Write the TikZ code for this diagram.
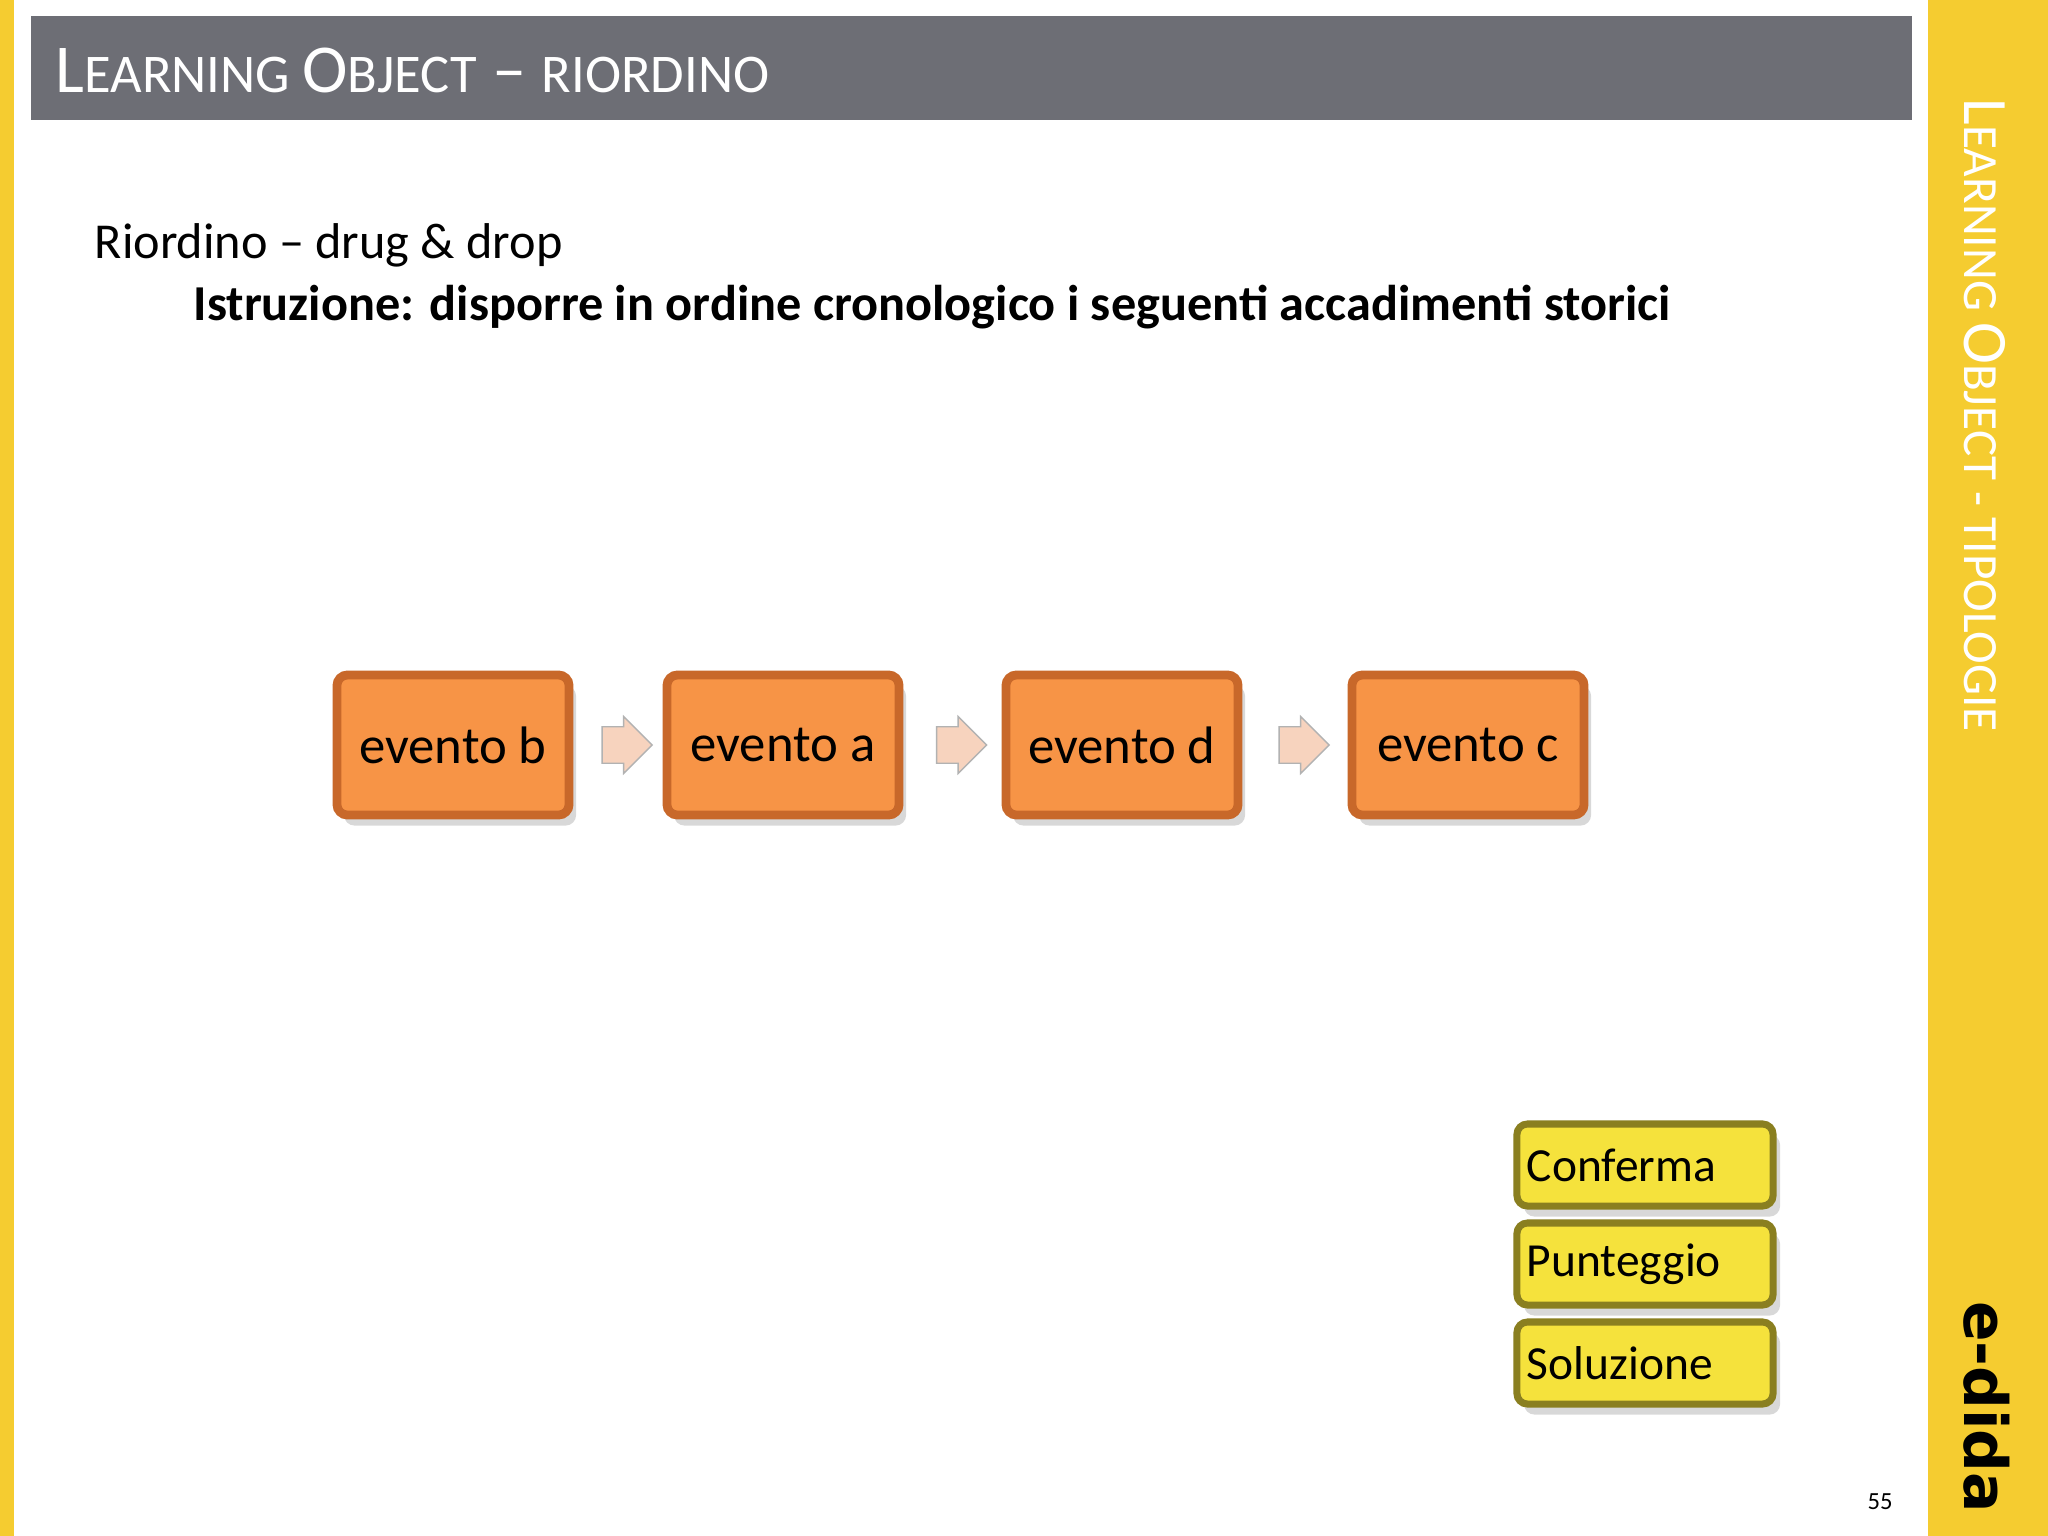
\documentclass[tikz,border=0pt]{standalone}
\usepackage{fontspec}
\setmainfont{Carlito}
\usetikzlibrary{shapes.arrows,shadows,calc}
\definecolor{barYellow}{HTML}{F5CC30}
\definecolor{barGray}{HTML}{6D6E75}
\definecolor{evfill}{HTML}{F79446}
\definecolor{evdraw}{HTML}{C8682A}
\definecolor{btnYellow}{HTML}{F5E23C}
\definecolor{btnEdge}{HTML}{8A7F20}
\definecolor{arrFill}{HTML}{F7D3BE}
\tikzset{
 evbox/.style={draw=evdraw,line width=2.5pt,fill=evfill,rounded corners=3pt,minimum width=2.32cm,minimum height=1.40cm,inner sep=0,font=\fontsize{15}{15}\selectfont,drop shadow={shadow xshift=2pt,shadow yshift=-3pt,opacity=0.3}},
 btnbox/.style={draw=btnEdge,line width=2pt,fill=btnYellow,rounded corners=3pt,minimum width=2.56cm,minimum height=0.82cm,text width=2.36cm,inner sep=0,font=\fontsize{13.5}{13.5}\selectfont,drop shadow={shadow xshift=2pt,shadow yshift=-3pt,opacity=0.3}},
 arrowbox/.style={single arrow,draw=gray!60,fill=arrFill,minimum width=0.57cm,minimum height=0.5cm,single arrow head extend=0.1cm,inner xsep=0.08cm,inner ysep=0.17cm}
}
\begin{document}
\begin{tikzpicture}[x=0.01cm,y=-0.01cm]
\useasboundingbox (0,0) rectangle (2048,1536);
\fill[white] (0,0) rectangle (2048,1536);
\fill[barYellow] (0,0) rectangle (14,1536);
\fill[barYellow] (1928,0) rectangle (2048,1536);
\fill[barGray] (31,16) rectangle (1912,120);
\node[anchor=west,text=white,inner sep=0] (title) at (55,70) {\fontsize{19.5}{19.5}\selectfont L{\fontsize{15.5}{15.5}\selectfont EARNING }O{\fontsize{15.5}{15.5}\selectfont BJECT} – {\fontsize{15.5}{15.5}\selectfont RIORDINO}};
\node[anchor=base west,inner sep=0] (sub) at (94,258) {\fontsize{14.3}{14.3}\selectfont Riordino – drug \& drop};
\node[anchor=base west,inner sep=0] (istr) at (193,320) {\fontsize{14.3}{14.3}\selectfont\bfseries Istruzione: disporre in ordine cronologico i seguenti accadimenti storici};
\node[evbox] (eb) at (453,745) {evento b};
\node[evbox] (ea) at (783,745) {evento a};
\node[evbox] (ed) at (1122,745) {evento d};
\node[evbox] (ec) at (1468,745) {evento c};
\node[arrowbox] (a1) at ($(eb.east)!0.5!(ea.west)$) {};
\node[arrowbox] (a2) at ($(ea.east)!0.5!(ed.west)$) {};
\node[arrowbox] (a3) at ($(ed.east)!0.5!(ec.west)$) {};
\node[btnbox] (b1) at (1645,1165) {Conferma};
\node[btnbox] (b2) at (1645,1264) {Punteggio};
\node[btnbox] (b3) at (1645,1363) {Soluzione};
\node[inner sep=0] (num) at (1880,1502) {\fontsize{7}{7}\selectfont 55};
\node[rotate=-90,anchor=west,text=white,inner sep=0] (side) at (1985,98) {\fontsize{18}{18}\selectfont L{\fontsize{14}{14}\selectfont EARNING }O{\fontsize{14}{14}\selectfont BJECT - TIPOLOGIE}};
\node[rotate=-90,inner sep=0] (logo) at (1987,1407) {\fontsize{17}{17}\selectfont\bfseries\fontspec{DejaVu Sans}e-dida};
\end{tikzpicture}
\end{document}
